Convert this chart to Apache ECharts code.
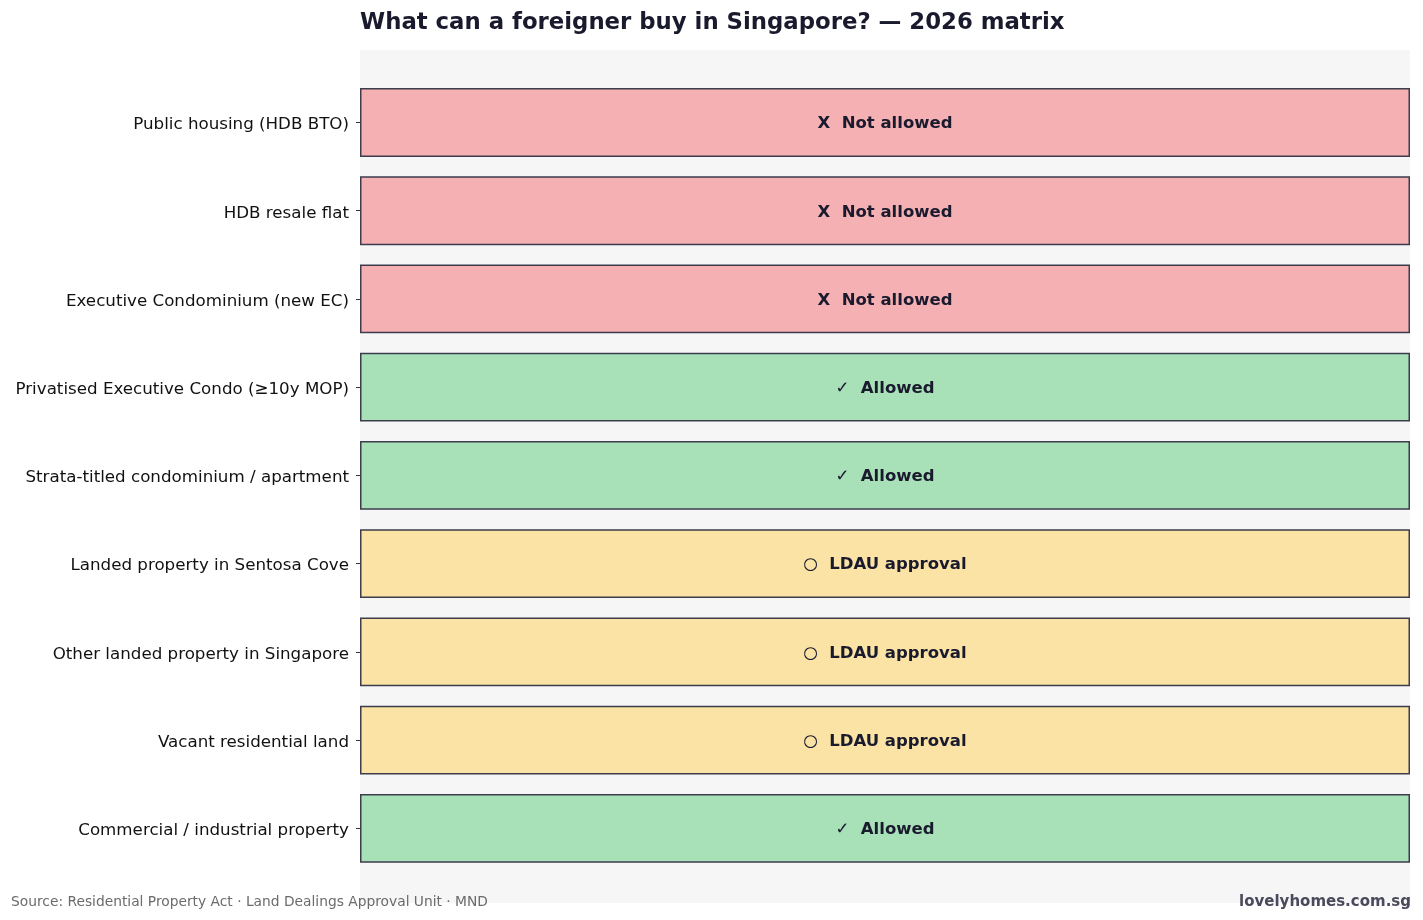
<!DOCTYPE html>
<html>
<head>
<meta charset="utf-8">
<title>What can a foreigner buy in Singapore? — 2026 matrix</title>
<script src="https://cdn.jsdelivr.net/npm/echarts@6/dist/echarts.min.js"></script>
<style>
    html, body { margin: 0; padding: 0; background: #ffffff; }
    #chart { width: 1423px; height: 920px; }
</style>
</head>
<body>
<div id="chart"></div>
<script>
// property types, top to bottom
const categories = [
    'Public housing (HDB BTO)',
    'HDB resale flat',
    'Executive Condominium (new EC)',
    'Privatised Executive Condo (\u226510y MOP)',
    'Strata-titled condominium / apartment',
    'Landed property in Sentosa Cove',
    'Other landed property in Singapore',
    'Vacant residential land',
    'Commercial / industrial property'
];

// status per property type
const statuses = ['no', 'no', 'no', 'yes', 'yes', 'ldau', 'ldau', 'ldau', 'yes'];

// every row fills the whole width
const fillValues = [1, 1, 1, 1, 1, 1, 1, 1, 1];

const statusText = {
    no: 'X  Not allowed',
    yes: '\u2713  Allowed',
    ldau: '\u25CB  LDAU approval'
};
const statusColor = {
    no: '#f4b0b2',
    yes: '#a8e0b7',
    ldau: '#fae3a4'
};

const FONT = '"DejaVu Sans", Verdana, sans-serif';
const INK = '#1a1a2e';

// plot box (background panel) and the inner band area for the rows
const plotLeft = 360, plotRight = 1410, plotTop = 50, plotBottom = 903;
const bandTop = 78.4, bandBottom = 872.4;

const chart = echarts.init(document.getElementById('chart'));

const option = {
    animation: false,
    backgroundColor: '#ffffff',
    title: {
        text: 'What can a foreigner buy in Singapore? \u2014 2026 matrix',
        left: 355,
        top: 7,
        textStyle: { fontFamily: FONT, fontSize: 22.8, fontWeight: 'bold', color: INK }
    },
    graphic: [
        {
            type: 'rect',
            z: -10,
            silent: true,
            shape: { x: plotLeft, y: plotTop, width: plotRight - plotLeft, height: plotBottom - plotTop },
            style: { fill: '#f6f6f7' }
        },
        {
            type: 'text',
            left: 11,
            top: 895,
            silent: true,
            style: {
                text: 'Source: Residential Property Act \u00B7 Land Dealings Approval Unit \u00B7 MND',
                fontFamily: FONT, fontSize: 13.8, fill: '#6b6b6b'
            }
        },
        {
            type: 'text',
            right: 12,
            top: 895,
            silent: true,
            style: {
                text: 'lovelyhomes.com.sg',
                fontFamily: FONT, fontSize: 15, fontWeight: 'bold', fill: '#4a4a5c'
            }
        }
    ],
    grid: {
        left: plotLeft,
        right: 1423 - plotRight,
        top: bandTop,
        bottom: 920 - bandBottom
    },
    xAxis: {
        type: 'value',
        min: 0,
        max: 1,
        show: false
    },
    yAxis: {
        type: 'category',
        inverse: true,
        data: categories,
        axisLine: { show: false },
        axisTick: { show: true, alignWithLabel: true, length: 4, lineStyle: { color: '#333333', width: 1 } },
        axisLabel: {
            margin: 11,
            formatter: v => '{t|' + v + '}',
            rich: {
                t: { fontFamily: FONT, fontSize: 16.7, color: '#111111', padding: [5, 0, 0, 0] }
            }
        },
        splitLine: { show: false }
    },
    series: [{
        type: 'bar',
        barCategoryGap: '22%',
        data: fillValues.map((v, i) => ({
            value: v,
            itemStyle: { color: statusColor[statuses[i]] },
            label: { formatter: statusText[statuses[i]] }
        })),
        itemStyle: { borderColor: '#3c3c4c', borderWidth: 1.5 },
        label: {
            show: true,
            position: 'inside',
            offset: [0, 1.5],
            fontFamily: FONT,
            fontSize: 16.5,
            fontWeight: 'bold',
            color: INK
        }
    }]
};

chart.setOption(option);
</script>
</body>
</html>
